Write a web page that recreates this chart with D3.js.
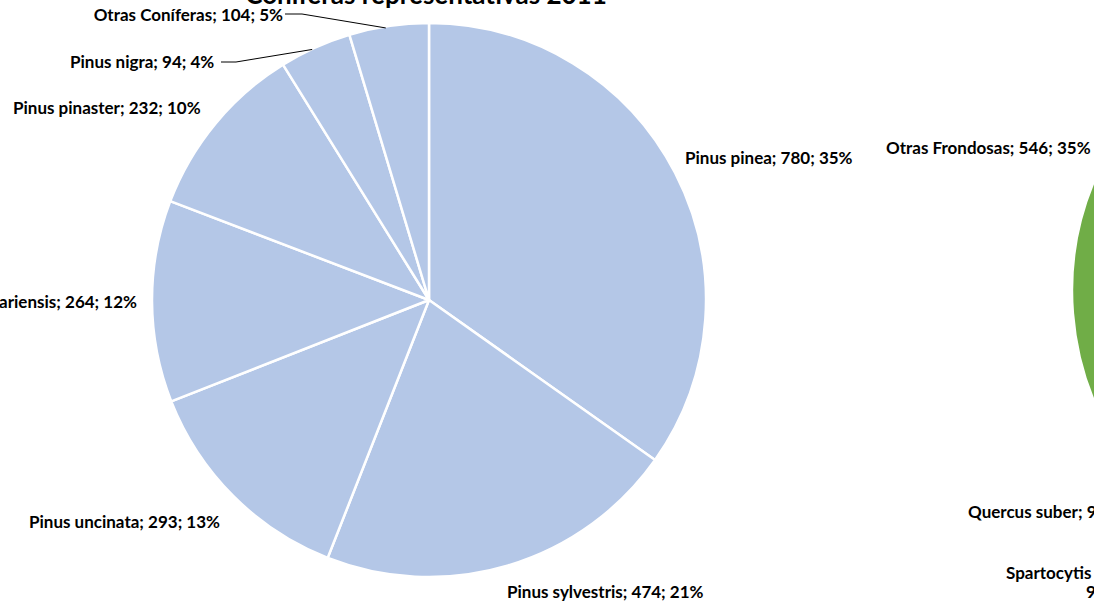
<!DOCTYPE html>
<html><head><meta charset="utf-8">
<script src="https://cdn.jsdelivr.net/npm/d3@7"></script>
<style>
html,body{margin:0;padding:0;background:#fff;overflow:hidden}
text{font-family:Lato,"Open Sans",sans-serif;font-weight:700;fill:#000}
</style></head>
<body>
<svg id="chart" width="1094" height="602"></svg>
<script>
// Coníferas (left pie)
const coniferCategories = ["Pinus pinea","Pinus sylvestris","Pinus uncinata","Pinus canariensis","Pinus pinaster","Pinus nigra","Otras Coníferas"];
const coniferValues = [780, 474, 293, 264, 232, 94, 104];
const coniferPercents = ["35%","21%","13%","12%","10%","4%","5%"];
// Frondosas (right pie, only partly in view)
const frondosaCategories = ["Otras Frondosas"];
const frondosaValues = [546];
const frondosaPercents = ["35%"];
const frondosaTotal = 1560;
const frondosaOffLabels = ["Quercus suber; 96; 6%","Spartocytis supranubius;","96; 6%"];
const titleText = "Coníferas representativas 2011";

const FS = "17px";
const svg = d3.select("#chart");

// left pie
const cx = 429, cy = 300, R = 277;
const pie = d3.pie().sort(null).value(d => d.v);
const cdata = coniferCategories.map((c,i)=>({c, v: coniferValues[i], p: coniferPercents[i]}));
const arcs = pie(cdata);
const arc = d3.arc().innerRadius(0).outerRadius(R);
const g = svg.append("g").attr("transform",`translate(${cx},${cy})`);
g.selectAll("path").data(arcs).join("path")
  .attr("d", arc).attr("fill","#B4C7E7").attr("stroke","#fff").attr("stroke-width",2.5).attr("stroke-linejoin","round");

// title (cut at top)
svg.append("text").attr("x", 426).attr("y", 4).attr("text-anchor","middle")
  .style("font-size","26px").text(titleText);

// label positions (anchor x,y in page coords) for each conifer slice
const labelPos = [
  {x:685, y:164, a:"start"},
  {x:507, y:598, a:"start"},
  {x:29,  y:528, a:"start"},
  {x:137, y:308, a:"end"},
  {x:13,  y:114, a:"start"},
  {x:70,  y:68,  a:"start"},
  {x:283, y:21,  a:"end"}
];
arcs.forEach((d,i)=>{
  const lp = labelPos[i];
  svg.append("text").attr("x", lp.x).attr("y", lp.y).attr("text-anchor", lp.a)
    .style("font-size",FS)
    .text(`${d.data.c}; ${d.data.v}; ${d.data.p}`);
});
// leader lines for small slices
const leaders = [
  {i:5, tx:221, ty:62, kx:236},
  {i:6, tx:285, ty:14, kx:302}
];
leaders.forEach(L=>{
  const a = arcs[L.i];
  const ang = a.startAngle + (a.endAngle - a.startAngle)*0.5;
  const ex = cx + Math.sin(ang)*R, ey = cy - Math.cos(ang)*R;
  svg.append("polyline").attr("points", `${L.tx},${L.ty} ${L.kx},${L.ty} ${ex-3},${ey+2}`)
    .attr("fill","none").attr("stroke","#000").attr("stroke-width",1);
});

// right pie (mostly outside the view)
const fcx = 1357, fcy = 291, fR = 285;
const farc = d3.arc().innerRadius(0).outerRadius(fR);
const fg = svg.append("g").attr("transform",`translate(${fcx},${fcy})`);
frondosaValues.forEach((v,i)=>{
  fg.append("path").attr("d", farc({startAngle: 2*Math.PI*(1 - v/frondosaTotal), endAngle: 2*Math.PI}))
    .attr("fill","#70AD47").attr("stroke","#fff").attr("stroke-width",2.5);
  svg.append("text").attr("x", 886).attr("y", 154).style("font-size",FS)
    .text(`${frondosaCategories[i]}; ${v}; ${frondosaPercents[i]}`);
});
svg.append("text").attr("x", 968).attr("y", 518).style("font-size",FS).text(frondosaOffLabels[0]);
svg.append("text").attr("x", 1006).attr("y", 579).style("font-size",FS).text(frondosaOffLabels[1]);
svg.append("text").attr("x", 1086).attr("y", 598).style("font-size",FS).text(frondosaOffLabels[2]);
</script>
</body></html>
